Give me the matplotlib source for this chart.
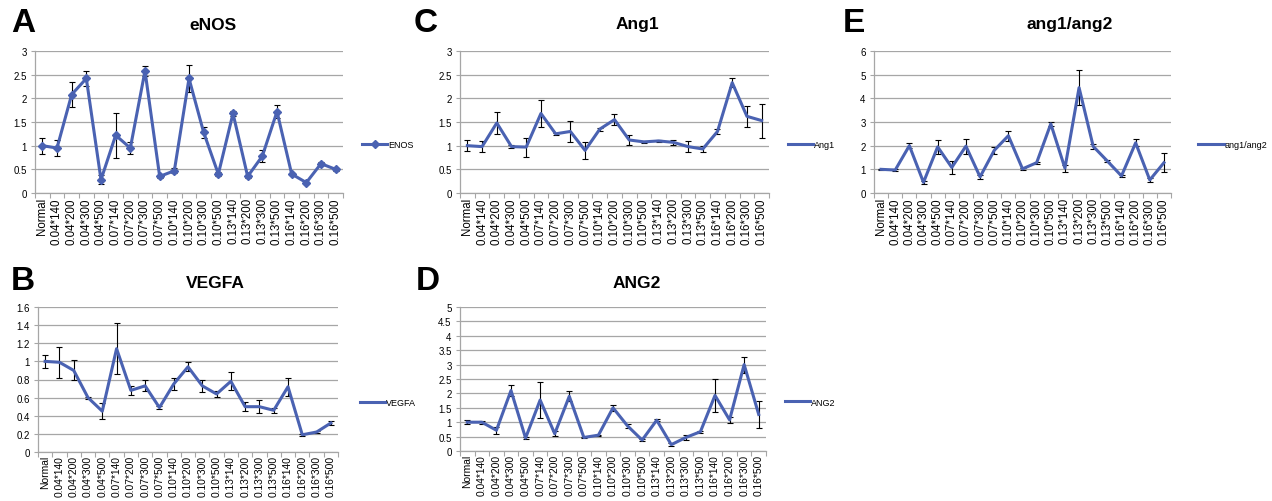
import numpy as np
import matplotlib
matplotlib.use("Agg")
import matplotlib.pyplot as plt

plt.rcParams['font.family'] = ['Liberation Sans', 'DejaVu Sans']

groups = ['Normal', '0.04*140', '0.04*200', '0.04*300', '0.04*500',
          '0.07*140', '0.07*200', '0.07*300', '0.07*500',
          '0.10*140', '0.10*200', '0.10*300', '0.10*500',
          '0.13*140', '0.13*200', '0.13*300', '0.13*500',
          '0.16*140', '0.16*200', '0.16*300', '0.16*500']

enos = [1.0, 0.95, 2.08, 2.42, 0.28, 1.22, 0.95, 2.58, 0.35, 0.47, 2.42,
        1.28, 0.4, 1.68, 0.35, 0.78, 1.72, 0.4, 0.22, 0.62, 0.5]
enos_err = [0.17, 0.17, 0.27, 0.15, 0.1, 0.47, 0.13, 0.1, 0.03, 0.05, 0.28,
            0.12, 0.05, 0.05, 0.03, 0.13, 0.14, 0.03, 0.02, 0.03, 0.03]

ang1 = [1.0, 0.98, 1.48, 0.98, 0.97, 1.68, 1.25, 1.3, 0.9, 1.35, 1.55,
        1.12, 1.08, 1.1, 1.07, 0.98, 0.93, 1.3, 2.33, 1.62, 1.53]
ang1_err = [0.11, 0.12, 0.23, 0.03, 0.2, 0.28, 0.02, 0.23, 0.18, 0.03, 0.11,
            0.1, 0.02, 0.03, 0.06, 0.11, 0.06, 0.06, 0.1, 0.22, 0.36]

ratio = [1.0, 0.97, 2.0, 0.45, 1.95, 1.08, 1.98, 0.68, 1.8, 2.42, 1.02,
         1.28, 2.92, 1.05, 4.45, 1.97, 1.35, 0.72, 2.12, 0.55, 1.28]
ratio_err = [0.03, 0.03, 0.1, 0.05, 0.3, 0.28, 0.32, 0.1, 0.15, 0.22, 0.05,
             0.05, 0.1, 0.15, 0.75, 0.1, 0.03, 0.03, 0.15, 0.07, 0.4]

vegfa = [1.0, 0.99, 0.9, 0.6, 0.45, 1.14, 0.68, 0.73, 0.49, 0.75, 0.94,
         0.73, 0.64, 0.78, 0.5, 0.5, 0.46, 0.72, 0.19, 0.22, 0.32]
vegfa_err = [0.07, 0.17, 0.11, 0.01, 0.09, 0.28, 0.05, 0.06, 0.02, 0.07, 0.05,
             0.07, 0.03, 0.1, 0.05, 0.07, 0.03, 0.1, 0.01, 0.01, 0.02]

ang2 = [1.0, 1.0, 0.72, 2.1, 0.45, 1.77, 0.6, 1.9, 0.47, 0.55, 1.5,
        0.87, 0.38, 1.07, 0.22, 0.47, 0.67, 1.93, 1.08, 3.0, 1.27]
ang2_err = [0.07, 0.05, 0.12, 0.18, 0.05, 0.63, 0.08, 0.17, 0.02, 0.02, 0.1,
            0.08, 0.03, 0.03, 0.05, 0.08, 0.03, 0.57, 0.1, 0.28, 0.47]

W, H = 1272, 502
fig = plt.figure(figsize=(W / 100, H / 100), dpi=100)
blue = '#4a62b2'
grey = '#a6a6a6'


def px_axes(left, right, top, bottom):
    return fig.add_axes([left / W, (H - bottom) / H, (right - left) / W, (bottom - top) / H])


# letter, title, legend label, values, errors, ymax, ystep, axes box, marker,
# legend x offset, letter pos, title pos (pixels), x label size
panels = [
    ('A', 'eNOS', 'ENOS', enos, enos_err, 3, 0.5, (35, 343, 52, 194), 'D', 1.05, (23, 24), (213, 25), 8.3),
    ('C', 'Ang1', 'Ang1', ang1, ang1_err, 3, 0.5, (460, 769, 52, 194), None, 1.05, (426, 24), (637, 25), 8.3),
    ('E', 'ang1/ang2', 'ang1/ang2', ratio, ratio_err, 6, 1, (874, 1171, 52, 194), None, 1.08, (854, 24), (1070, 25), 8.3),
    ('B', 'VEGFA', 'VEGFA', vegfa, vegfa_err, 1.6, 0.2, (38, 338, 308, 453), None, 1.06, (23, 282), (215, 283), 7.4),
    ('D', 'ANG2', 'ANG2', ang2, ang2_err, 5, 0.5, (460, 766, 308, 452), None, 1.05, (428, 282), (637, 283), 7.4),
]

x = np.arange(len(groups))
for letter, title, lab, vals, errs, ymax, ystep, box, mk, lx, lpos, tpos, xfs in panels:
    ax = px_axes(*box)
    ax.errorbar(x, vals, yerr=errs, fmt='none', ecolor='black', elinewidth=0.8,
                capsize=2.5, capthick=0.8, zorder=2)
    ax.plot(x, vals, color=blue, lw=2.2, marker=mk, markersize=4, label=lab, zorder=3)
    ax.set_xlim(-0.5, len(groups) - 0.5)
    ax.set_ylim(0, ymax)
    yt = np.arange(0, ymax + ystep / 2, ystep)
    ax.set_yticks(yt)
    ax.set_yticklabels(['%g' % v for v in yt], fontsize=7)
    ax.set_xticks(x)
    ax.set_xticklabels(groups, rotation=90, fontsize=xfs)
    ax.set_xticks(np.arange(-0.5, len(groups)), minor=True)
    ax.tick_params(axis='x', which='major', length=0, pad=3 if xfs > 8 else 2)
    ax.tick_params(axis='x', which='minor', length=3.5, color=grey, width=0.8)
    ax.tick_params(axis='y', length=3, color=grey, width=0.8, pad=3)
    ax.grid(axis='y', color=grey, lw=0.9)
    ax.set_axisbelow(True)
    for s in ('top', 'right'):
        ax.spines[s].set_visible(False)
    for s in ('left', 'bottom'):
        ax.spines[s].set_color(grey)
        ax.spines[s].set_linewidth(0.9)
    fig.text(tpos[0] / W, 1 - tpos[1] / H, title, fontsize=12.5, fontweight='bold',
             ha='center', va='center')
    fig.text(lpos[0] / W, 1 - lpos[1] / H, letter, fontsize=24, fontweight='bold',
             ha='center', va='center')
    ax.legend(loc='center left', bbox_to_anchor=(lx, 0.34), frameon=False,
              fontsize=6.5, handlelength=2.8, handletextpad=0.1, borderaxespad=0)

fig.savefig('out.png', dpi=100)
